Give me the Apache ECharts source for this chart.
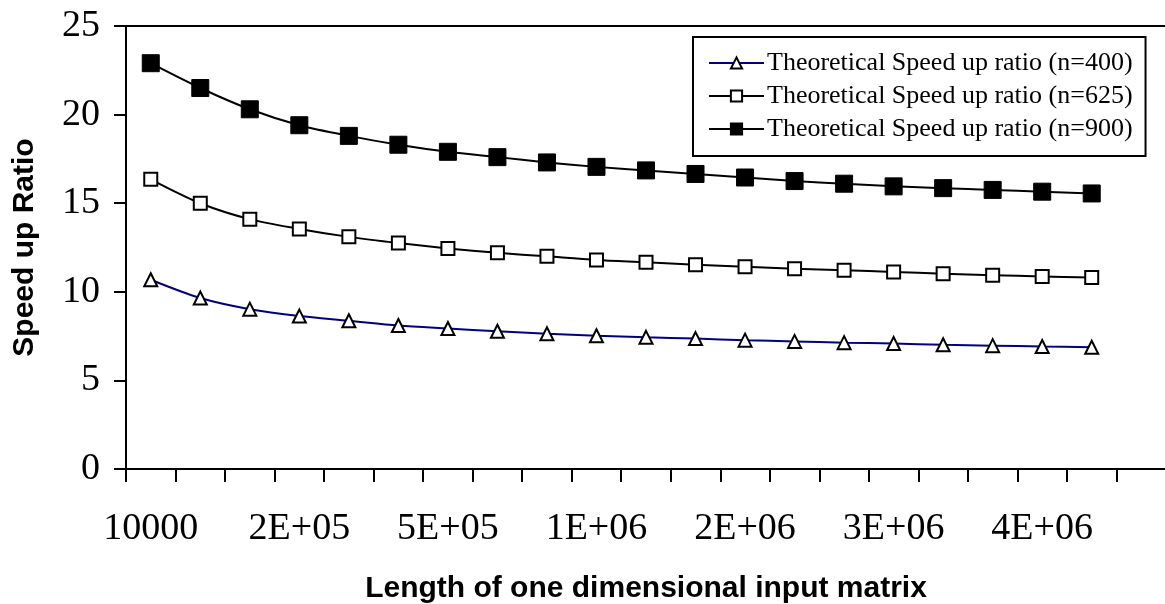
<!DOCTYPE html>
<html>
<head>
<meta charset="utf-8">
<script src="https://cdn.jsdelivr.net/npm/echarts@6/dist/echarts.min.js"></script>
<style>
html,body{margin:0;padding:0;background:#fff;}
#chart{width:1165px;height:604px;}
</style>
</head>
<body>
<div id="chart"></div>
<script>
// Length of the one dimensional input matrix (category values); last slot is an empty category
var matrixLengths = [10000, 40000, 90000, 160000, 250000, 360000, 490000, 640000, 810000, 1000000,
  1210000, 1440000, 1690000, 1960000, 2250000, 2560000, 2890000, 3240000, 3610000, 4000000, ''];
var seriesNames = ['Theoretical Speed up ratio (n=400)', 'Theoretical Speed up ratio (n=625)', 'Theoretical Speed up ratio (n=900)'];
var speedup400 = [10.68, 9.65, 9.02, 8.63, 8.37, 8.10, 7.93, 7.77, 7.63, 7.52, 7.43, 7.36, 7.27, 7.20, 7.13, 7.08, 7.01, 6.96, 6.91, 6.87];
var speedup625 = [16.35, 15.0, 14.1, 13.55, 13.1, 12.75, 12.45, 12.2, 12.0, 11.8, 11.67, 11.53, 11.42, 11.3, 11.22, 11.12, 11.02, 10.94, 10.87, 10.8];
var speedup900 = [22.9, 21.5, 20.3, 19.4, 18.8, 18.3, 17.9, 17.6, 17.3, 17.05, 16.85, 16.65, 16.45, 16.25, 16.1, 15.95, 15.85, 15.75, 15.65, 15.55];
var yTicks = {min: 0, max: 25, interval: 5};

function excelGeneral(v) {
  if (v === '' || v === null || v === undefined) return '';
  var n = Number(v);
  if (n < 100000) return String(n);
  var s = n.toExponential(0); // e.g. 2e+5
  var parts = s.split('e');
  var exp = parts[1];
  var sign = exp.charAt(0);
  var digits = exp.slice(1);
  if (digits.length < 2) digits = '0' + digits;
  return parts[0] + 'E' + sign + digits;
}

var serif = 'Liberation Serif';
var sans = 'Liberation Sans';

var chart = echarts.init(document.getElementById('chart'), null, {renderer: 'canvas'});
chart.setOption({
  animation: false,
  backgroundColor: '#ffffff',
  grid: {
    left: 126, right: -1, top: 26, bottom: 135,
    containLabel: false,
    outerBoundsMode: 'none',
    show: true, borderColor: '#000', borderWidth: 2, backgroundColor: 'transparent'
  },
  legend: {
    data: seriesNames,
    orient: 'vertical',
    left: 693, top: 37,
    backgroundColor: '#fff',
    borderColor: '#000', borderWidth: 2,
    padding: [13, 13, 14, 15],
    itemWidth: 55, itemHeight: 14, itemGap: 7,
    textStyle: {fontFamily: serif, fontSize: 26, color: '#000', padding: [0, 0, 0, -2]}
  },
  xAxis: {
    type: 'category',
    data: matrixLengths,
    boundaryGap: true,
    name: 'Length of one dimensional input matrix',
    nameLocation: 'middle',
    nameGap: 105,
    nameMoveOverlap: false,
    nameTextStyle: {fontFamily: sans, fontWeight: 'bold', fontSize: 30, color: '#000'},
    axisLine: {lineStyle: {color: '#000', width: 2}},
    axisTick: {show: true, interval: 0, length: 13, lineStyle: {color: '#000', width: 2}},
    axisLabel: {
      interval: 2, margin: 41, color: '#000', fontFamily: serif, fontSize: 38,
      formatter: function (v) { return excelGeneral(v); }
    },
    splitLine: {show: false}
  },
  yAxis: {
    type: 'value',
    min: yTicks.min, max: yTicks.max, interval: yTicks.interval,
    name: 'Speed up Ratio',
    nameLocation: 'middle',
    nameGap: 86,
    nameMoveOverlap: false,
    nameTextStyle: {fontFamily: sans, fontWeight: 'bold', fontSize: 30, color: '#000'},
    axisLine: {show: true, lineStyle: {color: '#000', width: 2}},
    axisTick: {show: true, length: 12, lineStyle: {color: '#000', width: 2}},
    axisLabel: {margin: 26, color: '#000', fontFamily: serif, fontSize: 38},
    splitLine: {show: false}
  },
  series: [
    {
      name: seriesNames[0], type: 'line', data: speedup400, smooth: 0.3,
      symbol: 'triangle', symbolSize: 13,
      lineStyle: {color: '#000080', width: 2},
      itemStyle: {color: '#fff', borderColor: '#000', borderWidth: 2}
    },
    {
      name: seriesNames[1], type: 'line', data: speedup625, smooth: 0.3,
      symbol: 'rect', symbolSize: 13,
      lineStyle: {color: '#000', width: 2},
      itemStyle: {color: '#fff', borderColor: '#000', borderWidth: 2}
    },
    {
      name: seriesNames[2], type: 'line', data: speedup900, smooth: 0.3,
      symbol: 'rect', symbolSize: 17,
      lineStyle: {color: '#000', width: 2},
      itemStyle: {color: '#000', borderColor: '#000', borderWidth: 1}
    }
  ]
});
</script>
</body>
</html>
